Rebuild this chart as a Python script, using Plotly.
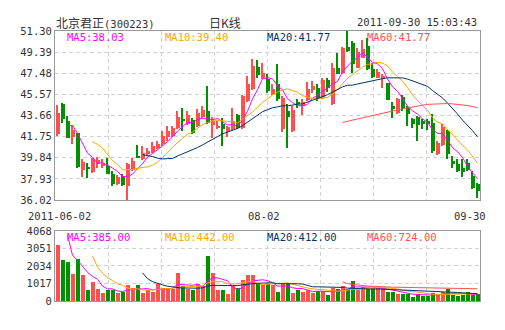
import plotly.graph_objects as go
import pandas as pd

# ---------------- data ----------------
date_labels = ["2011-06-02", "08-02", "09-30"]
pre_closes = [42.00, 42.65]          # 2011-05-31, 2011-06-01 (before visible window)
pre_volumes = [7400, 3900]

opens = [41.96, 44.73, 43.16, 41.72, 42.08, 38.71, 39.04, 38.59, 39.31, 39.10,
         39.10, 38.40, 37.44, 38.19, 37.29, 38.71, 40.00, 39.70, 40.15, 40.39,
         40.75, 41.06, 41.72, 41.81, 42.56, 43.26, 42.92, 43.23, 42.71, 43.53,
         44.07, 42.80, 42.56, 42.92, 42.26, 42.41, 43.71, 42.56, 44.97, 46.03,
         48.05, 47.08, 46.93, 45.58, 46.54, 42.41, 44.07, 42.26, 44.91, 44.52,
         45.03, 45.94, 46.12, 45.27, 46.84, 44.73, 47.93, 47.53, 49.85, 50.25,
         47.99, 48.89, 49.94, 47.83, 47.08, 46.93, 46.63, 44.52, 43.92, 45.33,
         44.43, 43.32, 43.53, 43.17, 43.17, 43.01, 40.21, 41.00, 42.26, 39.55,
         39.31, 38.95, 39.40, 38.19, 37.50]
highs = [44.61, 44.75, 43.62, 42.71, 42.11, 39.70, 39.40, 39.85, 39.91, 39.76,
         39.85, 38.65, 38.28, 38.34, 39.40, 39.85, 40.99, 40.90, 40.75, 41.26,
         41.36, 42.26, 42.71, 42.71, 44.07, 44.37, 44.07, 43.41, 44.22, 44.52,
         46.33, 43.50, 43.17, 43.41, 42.71, 44.31, 43.77, 45.48, 47.23, 48.74,
         48.65, 48.44, 47.38, 46.48, 48.35, 45.42, 44.67, 44.52, 45.12, 45.12,
         46.72, 46.78, 46.48, 47.08, 47.08, 48.44, 49.34, 49.85, 51.30, 50.40,
         49.79, 50.46, 50.70, 48.44, 47.83, 47.44, 46.63, 44.91, 45.27, 45.52,
         44.52, 43.41, 43.59, 43.32, 43.32, 43.77, 41.36, 42.86, 42.32, 40.00,
         39.70, 39.70, 39.70, 38.65, 37.59]
lows = [41.81, 43.00, 41.60, 41.12, 38.89, 38.13, 38.04, 38.50, 38.95, 38.90,
        38.34, 37.29, 37.38, 37.29, 36.02, 38.65, 39.79, 39.61, 40.00, 40.30,
        40.60, 40.90, 41.36, 41.72, 42.41, 42.26, 42.80, 42.02, 42.62, 43.41,
        42.86, 41.66, 42.41, 40.90, 41.72, 42.32, 42.41, 42.47, 44.88, 45.94,
        47.08, 46.93, 45.73, 45.52, 44.97, 42.20, 40.69, 42.20, 44.31, 43.71,
        44.97, 45.72, 44.97, 45.12, 45.82, 44.61, 47.38, 47.44, 49.43, 47.53,
        47.93, 48.83, 47.74, 47.08, 47.02, 46.12, 45.03, 43.47, 43.83, 44.07,
        42.71, 42.56, 41.36, 42.41, 42.32, 40.30, 40.09, 40.90, 39.70, 38.89,
        38.59, 38.10, 38.65, 36.99, 36.17]
closes = [43.92, 43.32, 41.66, 42.32, 39.01, 39.46, 38.86, 39.70, 39.61, 39.40,
          38.40, 37.44, 38.13, 37.35, 39.31, 39.55, 39.90, 40.30, 40.45, 40.90,
          41.06, 41.81, 42.26, 42.56, 43.53, 43.20, 43.71, 42.11, 43.92, 44.13,
          43.01, 43.20, 42.71, 42.47, 42.62, 43.17, 42.56, 45.42, 46.48, 48.14,
          47.32, 47.53, 45.88, 46.03, 45.12, 45.27, 43.53, 44.16, 44.73, 44.91,
          46.03, 46.33, 45.27, 46.84, 46.12, 47.99, 47.44, 49.79, 49.49, 48.29,
          49.43, 49.64, 47.83, 47.14, 47.62, 47.23, 45.06, 44.22, 45.12, 44.37,
          43.83, 42.86, 42.80, 42.86, 42.92, 40.45, 41.21, 42.62, 40.15, 39.31,
          38.65, 38.59, 38.71, 37.14, 36.80]
volumes = [3235, 2363, 2247, 1550, 2421, 1491, 620, 1104, 678, 446,
           659, 659, 446, 523, 910, 736, 910, 446, 620, 504,
           1007, 736, 736, 717, 1627, 852, 717, 659, 969, 852,
           2596, 1627, 659, 620, 387, 891, 736, 1240, 1491, 1491,
           1046, 910, 969, 910, 504, 969, 1007, 465, 659, 523,
           620, 465, 581, 581, 329, 736, 697, 852, 697, 1143,
           659, 814, 717, 775, 736, 736, 504, 504, 387, 426,
           426, 232, 387, 310, 310, 465, 329, 504, 678, 329,
           310, 368, 504, 368, 387]

price_ticks = [36.02, 37.93, 39.84, 41.75, 43.66, 45.57, 47.48, 49.39, 51.30]
vol_ticks = [0, 1017, 2034, 3051, 4068]
ma_periods = [5, 10, 20, 60]
ma_colors = ["#FF00FF", "#FFA500", "#003366", "#FF5050"]
price_ma_labels = ["MA5:38.03", "MA10:39.40", "MA20:41.77", "MA60:41.77"]
vol_ma_labels = ["MA5:385.00", "MA10:442.00", "MA20:412.00", "MA60:724.00"]

UP = "#FF5050"
DOWN = "#009000"
GRID = "#D2D2D2"
FRAME = "#999999"
TXT = "#333333"
MONO = "DejaVu Sans Mono"
CJK = "Noto Sans CJK SC"

n = len(closes)
idx = list(range(n))
colors = [UP if c >= o else DOWN for o, c in zip(opens, closes)]

fig = go.Figure()

# wicks
fig.add_trace(go.Bar(x=idx, base=lows, y=[h - l for h, l in zip(highs, lows)],
                     width=0.22, marker=dict(color=colors, line=dict(width=0)),
                     xaxis="x", yaxis="y", hoverinfo="skip"))
# bodies
fig.add_trace(go.Bar(x=idx, base=[min(o, c) for o, c in zip(opens, closes)],
                     y=[max(abs(c - o), 0.07) for o, c in zip(opens, closes)],
                     width=0.8, marker=dict(color=colors, line=dict(width=0)),
                     xaxis="x", yaxis="y"))

all_close = pd.Series(pre_closes + closes)
all_vol = pd.Series(pre_volumes + volumes)
for p, col in zip(ma_periods, ma_colors):
    ma = all_close.rolling(p).mean().iloc[len(pre_closes):].tolist()
    fig.add_trace(go.Scatter(x=idx, y=ma, mode="lines", line=dict(color=col, width=1),
                             xaxis="x", yaxis="y"))

# volume
fig.add_trace(go.Bar(x=idx, y=volumes, width=0.8,
                     marker=dict(color=colors, line=dict(width=0)),
                     xaxis="x2", yaxis="y2"))
for p, col in zip(ma_periods, ma_colors):
    ma = all_vol.rolling(p).mean().iloc[len(pre_volumes):].tolist()
    fig.add_trace(go.Scatter(x=idx, y=ma, mode="lines", line=dict(color=col, width=1),
                             xaxis="x2", yaxis="y2"))

grid_x = [-0.5 + n / 8 * k for k in range(1, 8)]
xcommon = dict(range=[-0.5, n - 0.5], tickvals=grid_x, showticklabels=False,
               showgrid=True, gridcolor=GRID, griddash="4px,3px", gridwidth=1,
               showline=True, mirror=True, linecolor=FRAME, linewidth=1,
               zeroline=False, ticks="", domain=[0, 1], fixedrange=True)
ycommon = dict(showgrid=True, gridcolor=GRID, griddash="4px,3px", gridwidth=1,
               showline=True, mirror=True, linecolor=FRAME, linewidth=1,
               zeroline=False, ticks="", tickfont=dict(family=MONO, size=10.5, color=TXT),
               fixedrange=True)

fig.update_layout(
    width=505, height=330,
    margin=dict(l=55, r=25, t=31, b=29, pad=0),
    paper_bgcolor="white", plot_bgcolor="white",
    showlegend=False, barmode="overlay", bargap=0,
    xaxis=dict(anchor="y", **xcommon),
    xaxis2=dict(anchor="y2", **xcommon),
    yaxis=dict(domain=[0.3741, 1], range=[price_ticks[0], price_ticks[-1]],
               tickvals=price_ticks, ticktext=[f"{v:.2f}" for v in price_ticks],
               anchor="x", **ycommon),
    yaxis2=dict(domain=[0, 0.2593], range=[vol_ticks[0], vol_ticks[-1]],
                tickvals=vol_ticks, ticktext=[str(v) for v in vol_ticks],
                anchor="x2", **ycommon),
)

ann = []
def A(text, x, y, xanchor="left", color=TXT, family=MONO, size=10.5):
    ann.append(dict(text=text, x=x, y=y, xref="paper", yref="paper",
                    xanchor=xanchor, yanchor="middle", showarrow=False,
                    font=dict(family=family, size=size, color=color)))

A("北京君正<span style='font-family:DejaVu Sans Mono;font-size:10.5px'>(300223)</span>",
  -0.002, 1.0333, family=CJK, size=12)
A("日K线", 0.40, 1.0333, xanchor="center", family=CJK, size=12)
A("2011-09-30 15:03:43", 0.9976, 1.0333, xanchor="right")

label_x = [0.0235, 0.2541, 0.4941, 0.7294]
for t, c, x in zip(price_ma_labels, ma_colors, label_x):
    A(t, x, 0.9796, color=c)
for t, c, x in zip(vol_ma_labels, ma_colors, label_x):
    A(t, x, 0.2370, color=c)

date_x = [0.0106, 0.4918, 0.9753]
for t, x in zip(date_labels, date_x):
    A(t, x, 0.3148, xanchor="center")

fig.update_layout(annotations=ann)
fig.write_html("out.html")
